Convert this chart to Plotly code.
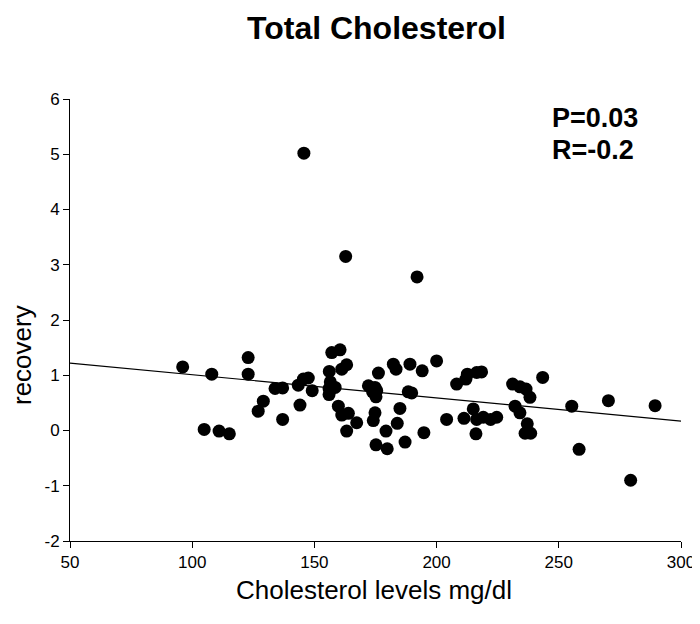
import plotly.graph_objects as go

# Data
cholesterol = [96.1, 108.0, 122.9, 122.9, 133.9, 137.0, 129.1, 127.0, 137.0, 104.9, 111.0, 115.2,
               157.1, 160.5, 156.1, 161.2, 163.2, 182.3, 183.4, 189.1, 194.1, 200.0, 176.2,
               143.4, 145.5, 147.5, 149.1, 156.5, 156.0, 156.0, 158.5, 172.1, 174.8, 175.5,
               173.8, 175.2, 188.4, 189.8, 144.1, 159.8, 161.2, 163.9, 167.3, 163.2, 174.8,
               174.1, 179.3, 175.2, 179.8, 183.9, 185.0, 187.1, 194.8, 204.1, 208.2, 211.2,
               212.0, 212.6, 216.4, 215.0, 216.4, 216.1,
               218.4, 219.1, 222.1, 224.6, 231.1, 234.1, 236.6, 238.2, 243.4, 232.1, 234.1,
               237.1, 236.2, 238.5, 255.3, 270.3, 289.4, 258.3, 279.4,
               145.7, 162.8, 192.0]
recovery = [1.15, 1.02, 1.32, 1.02, 0.76, 0.77, 0.53, 0.35, 0.20, 0.02, -0.01, -0.06,
            1.41, 1.46, 1.07, 1.11, 1.19, 1.20, 1.11, 1.20, 1.08, 1.26, 1.04,
            0.82, 0.93, 0.95, 0.72, 0.88, 0.76, 0.65, 0.78, 0.81, 0.78, 0.72,
            0.70, 0.61, 0.70, 0.68, 0.46, 0.44, 0.28, 0.31, 0.14, -0.01, 0.32,
            0.18, -0.01, -0.26, -0.33, 0.13, 0.40, -0.21, -0.04, 0.20, 0.84, 0.22,
            0.93, 1.02, 1.05, 0.39, 0.20, -0.06,
            1.06, 0.24, 0.20, 0.24, 0.84, 0.79, 0.75, 0.60, 0.96, 0.44, 0.32,
            0.12, -0.05, -0.05, 0.44, 0.54, 0.45, -0.34, -0.90,
            5.02, 3.15, 2.78]

fit_x = [50, 300]
fit_y = [1.22, 0.17]

x_ticks = [50, 100, 150, 200, 250, 300]
x_tick_labels = ["50", "100", "150", "200", "250", "300"]
y_ticks = [-2, -1, 0, 1, 2, 3, 4, 5, 6]
y_tick_labels = ["-2", "-1", "0", "1", "2", "3", "4", "5", "6"]

FONT = "Liberation Sans, Arial, sans-serif"
# The page body adds an 8px margin, so the figure is made 8px smaller on each side.
OFF = 8
W, H = 700 - OFF, 624 - OFF
# plot area in page pixels (as in the reference)
plot_l, plot_r, plot_t, plot_b = 70, 681, 99, 541

def px_x(px):
    return (px - plot_l) / (plot_r - plot_l)

def px_y(py):
    return (plot_b - py) / (plot_b - plot_t)

fig = go.Figure()
fig.add_trace(go.Scatter(x=fit_x, y=fit_y, mode="lines",
                         line=dict(color="black", width=1.2), showlegend=False))
fig.add_trace(go.Scatter(x=cholesterol, y=recovery, mode="markers",
                         marker=dict(color="black", size=13, line=dict(width=0)),
                         showlegend=False))

fig.update_layout(
    width=W, height=H,
    margin=dict(l=plot_l - OFF, r=W - (plot_r - OFF), t=plot_t - OFF,
                b=H - (plot_b - OFF), autoexpand=False),
    paper_bgcolor="white", plot_bgcolor="white",
    font=dict(family=FONT, color="black"),
    xaxis=dict(range=[50, 300], tickvals=x_ticks, ticktext=x_tick_labels,
               showgrid=False, zeroline=False, showline=True, linecolor="black",
               linewidth=1, ticks="outside", ticklen=6, tickcolor="black",
               tickfont=dict(size=17), automargin=False),
    yaxis=dict(range=[-2, 6], tickvals=y_ticks, ticktext=y_tick_labels,
               showgrid=False, zeroline=False, showline=True, linecolor="black",
               linewidth=1, ticks="outside", ticklen=6, tickcolor="black",
               tickfont=dict(size=17), automargin=False),
    annotations=[
        dict(text="<b>Total Cholesterol</b>", x=px_x(376), y=px_y(28),
             xref="paper", yref="paper", showarrow=False,
             xanchor="center", yanchor="middle",
             font=dict(size=32, family=FONT, color="black")),
        dict(text="Cholesterol levels mg/dl", x=px_x(374), y=px_y(590),
             xref="paper", yref="paper", showarrow=False,
             xanchor="center", yanchor="middle",
             font=dict(size=26, family=FONT, color="black")),
        dict(text="recovery", x=px_x(22), y=px_y(355),
             xref="paper", yref="paper", showarrow=False, textangle=-90,
             xanchor="center", yanchor="middle",
             font=dict(size=26, family=FONT, color="black")),
        dict(text="<b>P=0.03</b>", x=px_x(550), y=px_y(118),
             xref="paper", yref="paper", showarrow=False,
             xanchor="left", yanchor="middle",
             font=dict(size=27, family=FONT, color="black")),
        dict(text="<b>R=-0.2</b>", x=px_x(550), y=px_y(150),
             xref="paper", yref="paper", showarrow=False,
             xanchor="left", yanchor="middle",
             font=dict(size=27, family=FONT, color="black")),
    ],
)

fig.write_html("out.html")
